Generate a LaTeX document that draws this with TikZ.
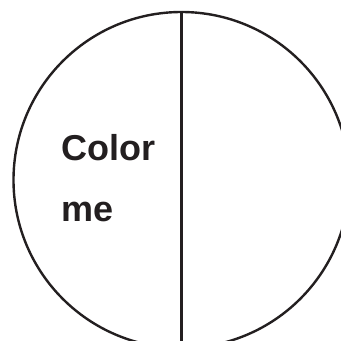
\documentclass[tikz,border=0pt]{standalone}
\usepackage{fontspec}
\setmainfont{Liberation Sans}
\definecolor{ink}{RGB}{35,31,32}
\tikzset{
  disk/.style={circle, draw=ink, line width=2.4pt, minimum size=336pt, inner sep=0pt},
  divider/.style={draw=ink, line width=2.4pt},
  label/.style={anchor=base west, inner sep=0pt, font=\fontsize{36}{42}\selectfont\bfseries, text=ink}
}
\begin{document}
\begin{tikzpicture}[x=1pt,y=1pt]
  \useasboundingbox (0,0) rectangle (341,341);
  \clip (0,0) rectangle (341,341);
  \node[disk] (disk) at (181.5,161) {};
  \draw[divider] (disk.north) -- (disk.south);
  \node[label] (color) at (61.5,180) {Color};
  \node[label] (me) at (61.5,120) {me};
\end{tikzpicture}
\end{document}
